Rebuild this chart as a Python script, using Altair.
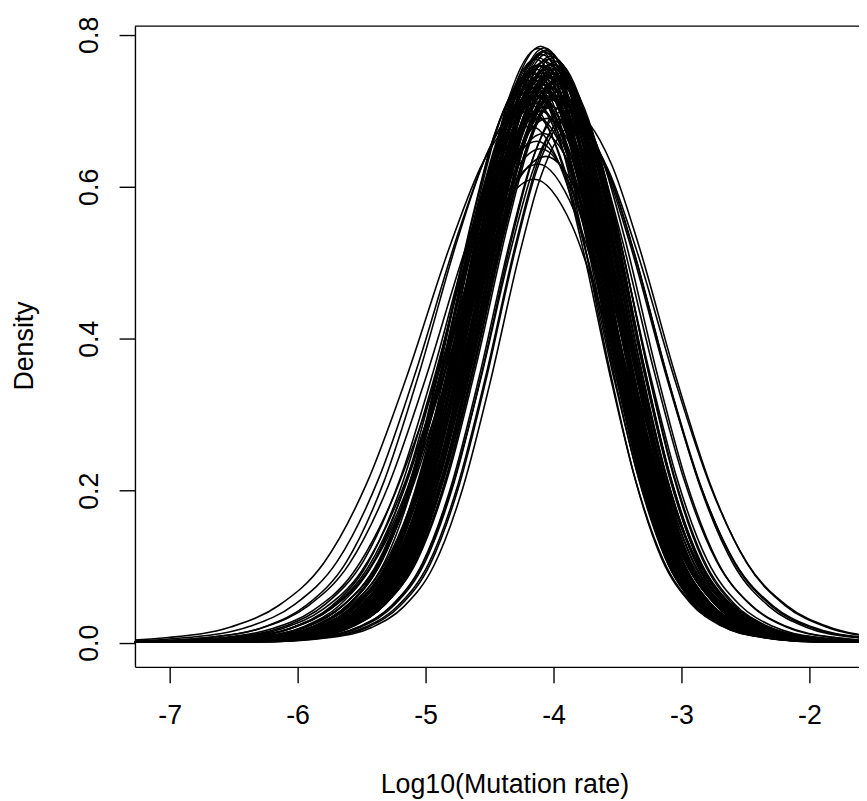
import altair as alt
import pandas as pd

# ---- per-curve values (mode, peak height, left/right width) ----
modes = [
    -4.12, -4.10, -4.08, -4.06, -4.04, -4.02, -4.00, -3.98, -4.14, -4.09, -4.05, -4.01, -3.97, -4.07,
    -4.20, -4.18, -4.16, -4.14, -4.12, -4.10, -4.08, -4.06, -4.04, -4.02, -4.00, -3.98, -3.96, -3.94,
    -3.92, -4.15, -4.11, -4.07, -4.03, -3.99, -3.95, -4.13, -4.05, -3.97, -4.09, -4.01,
    -4.19, -4.17, -4.15, -4.13, -4.11, -4.09, -4.07, -4.05, -4.03, -4.01, -3.99, -3.97, -3.95, -3.93,
    -4.16, -4.12, -4.08, -4.04, -4.00, -3.96, -4.14, -4.10, -4.06, -4.02, -3.98, -4.18, -4.08, -4.00,
    -3.94, -4.11,
    -4.15, -4.12, -4.10, -4.08, -4.18, -4.05, -4.13, -4.06,
    -4.18, -4.15, -4.12, -4.20, -4.10,
    -3.92, -3.88, -3.95, -3.85, -3.90, -3.90, -3.87,
]
peaks = [
    0.782, 0.785, 0.778, 0.780, 0.776, 0.772, 0.770, 0.765, 0.768, 0.774, 0.779, 0.762, 0.758, 0.783,
    0.740, 0.750, 0.730, 0.755, 0.745, 0.735, 0.750, 0.720, 0.745, 0.730, 0.750, 0.740, 0.725, 0.745,
    0.730, 0.710, 0.720, 0.705, 0.715, 0.720, 0.740, 0.760, 0.755, 0.750, 0.730, 0.705,
    0.745, 0.735, 0.750, 0.740, 0.760, 0.745, 0.765, 0.755, 0.760, 0.750, 0.745, 0.755, 0.735, 0.730,
    0.725, 0.770, 0.760, 0.768, 0.755, 0.740, 0.720, 0.740, 0.735, 0.745, 0.760, 0.715, 0.725, 0.735,
    0.720, 0.700,
    0.610, 0.630, 0.650, 0.670, 0.680, 0.690, 0.660, 0.640,
    0.700, 0.720, 0.690, 0.710, 0.730,
    0.700, 0.690, 0.720, 0.680, 0.710, 0.690, 0.700,
]
left_width = [
    0.55, 0.54, 0.56, 0.55, 0.57, 0.55, 0.56, 0.55, 0.54, 0.56, 0.55, 0.57, 0.56, 0.55,
    0.58, 0.57, 0.60, 0.56, 0.58, 0.59, 0.57, 0.60, 0.58, 0.59, 0.57, 0.58, 0.60, 0.57,
    0.58, 0.62, 0.60, 0.63, 0.61, 0.60, 0.58, 0.56, 0.57, 0.58, 0.60, 0.62,
    0.58, 0.59, 0.57, 0.58, 0.56, 0.57, 0.55, 0.56, 0.56, 0.57, 0.58, 0.56, 0.58, 0.59,
    0.60, 0.55, 0.56, 0.55, 0.56, 0.58, 0.61, 0.58, 0.59, 0.57, 0.56, 0.62, 0.60, 0.59,
    0.60, 0.64,
    0.72, 0.70, 0.68, 0.66, 0.65, 0.63, 0.67, 0.70,
    0.82, 0.78, 0.75, 0.72, 0.70,
    0.56, 0.55, 0.57, 0.55, 0.56, 0.57, 0.56,
]
right_width = [
    0.50, 0.51, 0.50, 0.52, 0.50, 0.51, 0.50, 0.52, 0.51, 0.50, 0.52, 0.50, 0.51, 0.50,
    0.53, 0.54, 0.55, 0.52, 0.54, 0.55, 0.53, 0.56, 0.54, 0.55, 0.53, 0.55, 0.56, 0.54,
    0.55, 0.57, 0.56, 0.58, 0.57, 0.56, 0.55, 0.52, 0.53, 0.54, 0.55, 0.57,
    0.54, 0.55, 0.53, 0.54, 0.52, 0.53, 0.51, 0.52, 0.52, 0.53, 0.54, 0.52, 0.55, 0.56,
    0.56, 0.51, 0.52, 0.51, 0.53, 0.55, 0.57, 0.54, 0.55, 0.53, 0.52, 0.57, 0.56, 0.56,
    0.58, 0.59,
    0.64, 0.62, 0.60, 0.58, 0.58, 0.57, 0.60, 0.62,
    0.55, 0.56, 0.55, 0.54, 0.55,
    0.68, 0.66, 0.62, 0.64, 0.60, 0.72, 0.70,
]

# common curve profile: height relative to the peak vs. distance from the mode (in widths)
profile_rel = [1.0, 0.9, 0.75, 0.5, 0.3, 0.15, 0.07, 0.03, 0.01, 0.002, 0.0]
profile_offset = [0.0, 0.46, 0.76, 1.18, 1.56, 1.97, 2.4, 2.85, 3.45, 4.3, 12.0]

x_ticks = [-7, -6, -5, -4, -3, -2]
y_ticks = [0.0, 0.2, 0.4, 0.6, 0.8]

rows = []
for i, (m, p, lw, rw) in enumerate(zip(modes, peaks, left_width, right_width)):
    for r, o in zip(profile_rel[::-1], profile_offset[::-1]):
        rows.append({"curve": i, "x": m - lw * o, "y": p * r})
    for r, o in zip(profile_rel[1:], profile_offset[1:]):
        rows.append({"curve": i, "x": m + rw * o, "y": p * r})
df = pd.DataFrame(rows)

FONT = "Liberation Sans"
FS = 27

curves = alt.Chart(df).mark_line(
    color="black", strokeWidth=1.6, interpolate="monotone", clip=True
).encode(
    x=alt.X(
        "x:Q",
        scale=alt.Scale(domain=[-7.271, -1.613], nice=False, zero=False),
        axis=alt.Axis(
            values=x_ticks, labelExpr="'' + datum.value", title="Log10(Mutation rate)",
            grid=False, tickSize=16, tickWidth=1.4, tickColor="black",
            domainColor="black", domainWidth=1.4,
            labelPadding=20, labelFont=FONT, labelFontSize=FS, labelColor="black",
            labelFlush=False, labelOverlap=False,
            titleFont=FONT, titleFontSize=FS, titleFontWeight="normal", titleColor="black",
            titleX=372.5, titleY=127, titleAlign="center", titleBaseline="alphabetic",
        ),
    ),
    y=alt.Y(
        "y:Q",
        scale=alt.Scale(domain=[-0.0317, 0.8114], nice=False, zero=False),
        axis=alt.Axis(
            values=y_ticks, labelExpr="format(datum.value, '.1f')", title="Density",
            grid=False, tickSize=16, tickWidth=1.4, tickColor="black",
            domainColor="black", domainWidth=1.4,
            labelAngle=270, labelAlign="center", labelBaseline="alphabetic",
            labelPadding=22, labelFont=FONT, labelFontSize=FS, labelColor="black",
            labelFlush=False, labelOverlap=False,
            titleFont=FONT, titleFontSize=FS, titleFontWeight="normal", titleColor="black",
            titleAngle=270, titleX=-103, titleY=322, titleAlign="center", titleBaseline="alphabetic",
        ),
    ),
    detail="curve:N",
)

top_border = alt.Chart(pd.DataFrame({"k": [0]})).mark_rule(color="black", strokeWidth=1.4).encode(
    x=alt.value(0), x2=alt.value(730), y=alt.value(0)
)

chart = alt.layer(curves, top_border).properties(
    width=730, height=646,
    padding={"left": 128, "top": 15, "right": 0, "bottom": 132},
    autosize=alt.AutoSizeParams(type="none"),
    background="white",
).configure_view(stroke=None)

chart.save("out.html", embed_options={"renderer": "svg", "actions": False})
